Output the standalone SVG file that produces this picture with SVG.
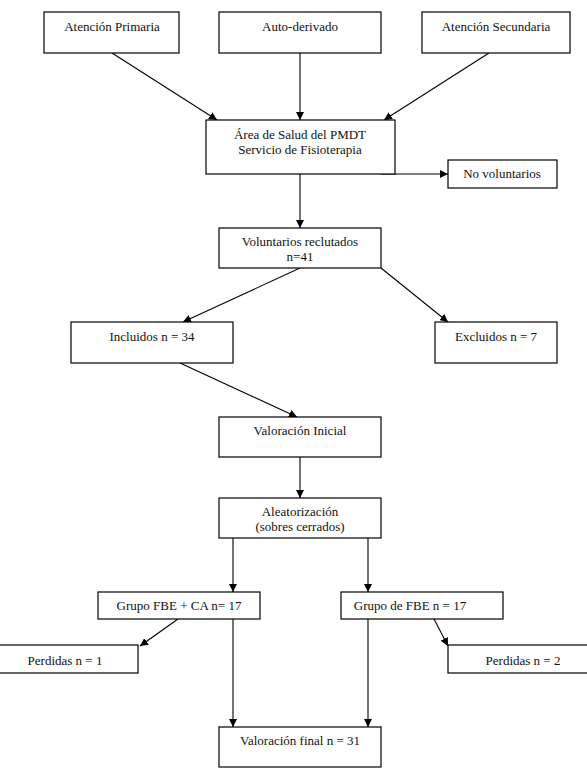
<svg xmlns="http://www.w3.org/2000/svg" width="587" height="778" viewBox="0 0 587 778">
<style>
rect{fill:#fff;stroke:#000;stroke-width:1.2}
text{font-family:'Liberation Serif','Times New Roman',Times,serif;font-size:13px;fill:#111;text-anchor:middle}
.c line{stroke:#000;stroke-width:1.1;marker-end:url(#ah)}
</style>
<defs>
<marker id="ah" viewBox="0 0 10 10" refX="10" refY="5" markerWidth="8" markerHeight="8" markerUnits="userSpaceOnUse" orient="auto"><path d="M0,0 L10,5 L0,10 z" fill="#000"/></marker>
</defs>
<rect x="0" y="0" width="587" height="778" style="fill:#fff;stroke:none"/>
<g class="c" id="connectors">
<line x1="112" y1="53" x2="217" y2="120"/>
<line x1="300" y1="53" x2="300" y2="120"/>
<line x1="489" y1="53" x2="384" y2="120"/>
<line x1="381" y1="174" x2="448" y2="174"/>
<line x1="300" y1="174" x2="300" y2="228"/>
<line x1="300" y1="268" x2="183" y2="322"/>
<line x1="381" y1="268" x2="448" y2="322"/>
<line x1="180" y1="363" x2="297" y2="417"/>
<line x1="300" y1="457" x2="300" y2="498"/>
<line x1="233" y1="538" x2="233" y2="592"/>
<line x1="368" y1="538" x2="368" y2="592"/>
<line x1="178" y1="619" x2="140" y2="646"/>
<line x1="434" y1="619" x2="448" y2="646"/>
<line x1="233" y1="619" x2="233" y2="727"/>
<line x1="368" y1="619" x2="368" y2="727"/>
</g>
<g font-family="Liberation Serif, Times New Roman, serif">
<g id="n-primaria"><rect x="44" y="12" width="135" height="41"/><text x="112" y="31">Atención Primaria</text></g>
<g id="n-auto"><rect x="219" y="12" width="162" height="41"/><text x="300" y="31">Auto-derivado</text></g>
<g id="n-secundaria"><rect x="422" y="12" width="148" height="41"/><text x="496" y="31">Atención Secundaria</text></g>
<g id="n-area"><rect x="206" y="120" width="189" height="54"/><text x="300" y="139">Área de Salud del PMDT</text><text x="300" y="154">Servicio de Fisioterapia</text></g>
<g id="n-novol"><rect x="448" y="160" width="109" height="28"/><text x="502" y="178">No voluntarios</text></g>
<g id="n-volunt"><rect x="219" y="228" width="162" height="40"/><text x="300" y="246">Voluntarios reclutados</text><text x="300" y="261">n=41</text></g>
<g id="n-incl"><rect x="71" y="322" width="162" height="41"/><text x="152" y="341">Incluidos n = 34</text></g>
<g id="n-excl"><rect x="435" y="322" width="122" height="41"/><text x="496" y="341">Excluidos n = 7</text></g>
<g id="n-valini"><rect x="219" y="417" width="162" height="40"/><text x="300" y="435">Valoración Inicial</text></g>
<g id="n-aleat"><rect x="219" y="498" width="162" height="40"/><text x="300" y="516">Aleatorización</text><text x="300" y="531">(sobres cerrados)</text></g>
<g id="n-grupo1"><rect x="98" y="592" width="162" height="27"/><text x="179" y="610">Grupo FBE + CA n= 17</text></g>
<g id="n-grupo2"><rect x="341" y="592" width="162" height="27"/><text x="410" y="610">Grupo de FBE n = 17</text></g>
<g id="n-perd1"><rect x="-2" y="645" width="140" height="28"/><text x="65" y="665">Perdidas n = 1</text></g>
<g id="n-perd2"><rect x="448" y="645" width="141" height="28"/><text x="523" y="665">Perdidas n = 2</text></g>
<g id="n-valfin"><rect x="219" y="727" width="162" height="40"/><text x="300" y="745">Valoración final n = 31</text></g>
</g>
</svg>
